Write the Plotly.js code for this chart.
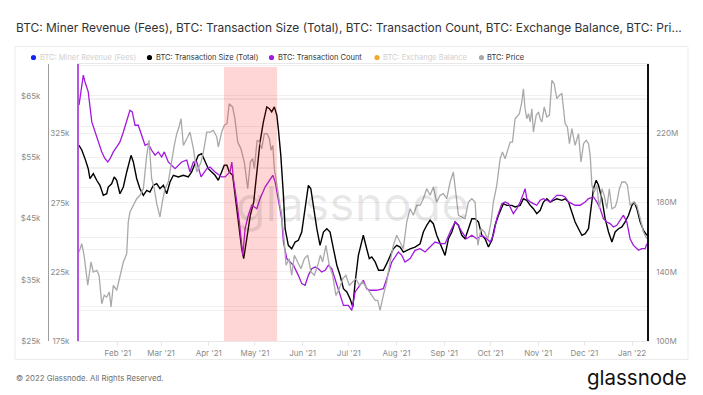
<!DOCTYPE html>
<html>
<head>
<meta charset="utf-8">
<script src="https://cdn.plot.ly/plotly-3.0.1.min.js"></script>
<style>
  html, body { margin: 0; padding: 0; background: #fff; }
  #chart { width: 703px; height: 395px; }
</style>
</head>
<body>
<div id="chart"></div>
<script>
// ---- Data (x values are days since 2021-01-01) ----
const seriesNames = ['BTC: Miner Revenue (Fees)', 'BTC: Transaction Size (Total)', 'BTC: Transaction Count', 'BTC: Exchange Balance', 'BTC: Price'];

// BTC: Transaction Count (thousands)
const txCountDay = [5.7,8.5,9.6,11.7,14.0,16.1,18.2,20.5,22.6,24.4,25.9,28.0,30.2,32.3,34.5,36.7,38.8,40.3,42.1,44.2,46.4,48.6,50.7,52.9,55.1,57.2,59.4,61.1,63.7,65.9,68.1,72.4,75.7,77.8,80.0,82.2,85.0,88.7,90.8,94.1,98.4,100.6,103.8,105.0,106.0,108.2,109.9,112.1,113.6,115.7,117.9,121.2,123.3,126.6,129.8,131.6,133.1,135.2,137.4,138.5,140.7,142.8,145.0,148.2,150.4,152.6,154.7,156.9,159.1,161.2,163.4,165.6,167.7,169.9,172.1,175.3,177.5,180.7,182.9,185.1,188.3,190.4,192.6,194.8,199.1,203.4,205.6,208.9,213.2,215.4,217.5,220.8,224.0,227.3,230.5,233.8,237.0,240.3,243.5,246.8,250.0,252.2,254.4,257.6,260.9,264.1,267.4,270.6,272.8,274.9,277.1,280.4,282.5,284.7,287.9,290.1,292.3,294.4,295.5,296.6,298.8,300.9,303.1,305.3,307.4,309.6,311.8,313.9,316.1,319.4,321.5,323.7,325.9,328.0,331.3,334.5,336.7,339.9,342.1,344.3,346.4,348.6,350.7,352.9,355.1,357.2,359.4,361.6,363.7,365.9,369.2,371.3,373.5,374.6];
const txCountK = [345.6,367.3,362.4,355.2,333.5,326.2,319.0,311.8,306.9,304.5,306.9,311.8,315.4,319.0,326.2,333.5,341.9,340.7,331.1,331.1,323.8,316.6,317.8,313.0,309.4,311.8,308.1,311.8,304.5,302.1,299.7,304.5,305.8,297.3,304.5,304.5,293.7,299.7,300.9,297.3,293.7,293.7,297.3,304.5,292.4,275.6,261.1,237.0,256.3,266.0,273.2,270.7,278.0,286.4,292.4,294.9,290.1,275.6,263.5,246.6,234.6,232.2,229.8,222.5,216.5,215.3,222.5,227.3,228.5,227.3,224.9,226.2,229.8,227.3,220.1,209.2,200.8,200.8,197.2,210.5,215.3,218.9,212.8,211.7,211.7,212.8,220.1,232.2,239.4,237.0,232.2,234.6,240.6,241.8,239.4,243.0,246.6,245.4,245.4,253.9,261.1,258.7,253.9,249.0,251.5,249.0,251.5,249.0,246.6,251.5,263.5,274.4,275.6,274.4,267.1,270.7,275.6,281.6,285.2,278.0,275.6,274.4,273.2,276.8,278.0,276.8,275.6,278.0,280.4,280.4,279.2,275.6,274.4,273.2,273.2,275.6,278.0,279.2,275.6,270.7,263.5,261.1,259.9,257.5,258.7,262.3,266.0,261.1,249.0,244.2,240.6,241.8,241.8,245.4];

// BTC: Transaction Size (Total) (millions)
const txSizeDay = [5.7,7.5,9.6,11.7,12.8,15.0,17.2,19.3,21.5,23.7,24.7,26.9,28.6,30.2,32.3,34.5,36.7,38.2,39.5,41.0,43.2,45.3,47.5,49.7,51.8,54.0,56.2,58.3,60.5,62.7,64.8,67.0,70.2,73.5,76.7,78.9,81.1,83.2,85.4,87.6,89.7,91.9,94.1,96.2,98.4,100.1,101.8,103.3,105.5,107.7,109.9,111.4,112.7,114.8,117.0,119.2,121.2,123.3,125.5,127.7,129.4,130.9,132.6,134.2,135.2,136.8,138.5,139.6,141.7,143.9,146.1,148.2,150.4,152.6,154.7,156.3,158.0,160.2,162.3,164.5,166.7,168.8,171.0,173.2,175.3,177.5,179.7,181.8,183.6,185.1,187.2,190.4,192.6,194.3,195.9,198.1,200.3,203.4,205.6,207.8,209.9,212.1,214.3,216.4,218.6,220.8,224.0,227.3,229.4,231.6,233.8,235.9,238.1,241.4,243.5,245.7,247.9,250.0,252.2,254.4,256.5,258.7,260.9,263.0,265.2,267.4,269.5,271.7,273.9,276.0,278.2,281.4,283.6,286.9,289.0,292.3,294.4,296.6,298.8,300.9,303.1,305.3,307.4,309.6,311.8,313.9,316.1,319.4,321.5,323.7,325.9,328.0,330.2,332.4,334.5,336.7,338.3,339.9,341.7,343.2,345.4,347.5,349.7,351.9,354.0,356.2,358.4,360.5,362.7,364.9,366.4,368.1,370.3,372.4,374.6];
const txSizeM = [213.1,210.4,205.4,199.6,193.8,196.7,192.9,190.0,184.2,185.1,189.0,190.9,194.8,192.9,185.1,189.0,197.7,203.5,207.3,203.5,193.8,188.0,184.2,187.1,186.1,190.0,190.9,188.0,190.0,185.1,191.9,195.8,194.8,195.8,194.8,197.7,202.5,207.3,208.3,203.5,199.6,197.7,195.8,192.9,197.7,201.6,201.6,197.7,195.8,180.3,163.0,153.3,147.6,161.1,172.7,180.3,195.8,215.0,226.6,235.3,234.3,232.4,235.3,230.5,222.7,207.3,184.2,164.9,155.3,153.3,157.2,158.2,163.0,176.5,190.0,188.0,176.5,164.9,155.3,163.0,164.9,163.0,153.3,143.8,138.0,130.2,128.3,124.4,119.7,134.1,149.5,161.1,153.3,147.6,148.6,145.7,140.9,140.9,144.7,149.5,153.3,155.3,154.3,151.4,152.4,153.3,154.3,156.2,163.0,166.9,169.8,167.8,161.1,153.3,149.5,159.1,163.0,168.8,166.9,161.1,159.1,164.9,170.7,170.7,168.8,161.1,159.1,154.3,158.2,166.9,172.7,179.4,178.4,178.4,177.5,178.4,182.2,181.3,178.4,176.5,173.6,175.5,180.3,182.2,180.3,181.3,182.2,181.3,182.2,180.3,174.6,168.8,164.9,161.1,162.0,164.9,176.5,188.0,192.9,190.0,182.2,170.7,163.0,157.2,163.0,164.9,165.9,168.8,172.7,178.4,180.3,176.5,168.8,164.0,161.1];

// BTC: Price (USD thousands)
const priceDay = [5.7,7.5,9.0,11.4,13.5,15.0,17.2,18.7,20.5,22.1,23.7,25.4,26.5,28.0,30.2,32.3,34.5,36.7,37.7,38.8,41.0,43.2,45.3,47.5,49.7,51.2,52.9,54.6,56.2,58.3,59.8,61.6,63.7,65.9,67.6,69.2,70.7,72.0,73.5,75.7,77.8,80.0,82.2,85.0,86.5,88.7,90.8,93.0,95.2,96.2,98.4,100.1,101.8,103.3,105.5,107.0,108.8,110.9,113.1,115.3,117.0,118.5,119.6,121.4,122.9,124.4,126.1,127.9,129.4,130.5,131.6,132.6,134.8,137.0,138.7,140.2,142.3,143.9,145.6,147.8,149.9,152.1,154.3,156.4,158.6,160.8,162.5,164.0,166.1,168.3,170.5,172.6,174.8,177.0,179.1,181.3,183.5,185.6,187.8,190.0,192.1,194.3,195.9,198.1,199.8,201.3,203.4,205.6,207.8,209.9,212.1,214.3,216.4,218.6,220.8,222.9,225.1,227.3,229.4,231.6,233.8,235.9,238.1,240.3,242.4,244.6,246.8,248.9,250.0,252.2,254.4,256.5,258.7,260.9,263.0,264.8,266.9,269.1,271.3,273.4,274.9,277.1,279.3,280.8,282.5,284.3,285.8,287.3,289.0,291.8,293.4,294.4,295.5,296.6,297.7,298.8,299.9,300.9,302.7,304.2,305.3,306.4,307.9,309.6,311.3,312.9,314.4,316.1,317.8,319.4,321.5,323.0,324.3,325.9,328.0,330.2,331.8,333.5,335.2,336.7,337.8,338.9,340.4,342.1,343.8,345.4,346.9,348.6,350.2,351.9,354.0,355.1,356.8,358.4,360.5,362.0,363.7,365.9,368.1,370.3,372.4,374.6];
const priceK = [39.52,40.87,38.98,34.09,37.89,36.26,36.53,35.72,31.08,32.45,32.18,33.00,30.55,34.09,33.27,35.72,37.89,39.24,44.41,46.04,47.14,48.21,48.77,49.84,55.29,57.74,51.48,49.84,47.40,45.23,47.67,49.84,50.94,54.74,56.92,58.82,59.91,61.26,56.92,58.00,59.09,56.37,52.57,54.20,55.83,59.09,59.09,59.37,58.28,56.65,59.09,60.19,60.45,63.71,63.17,61.26,57.46,56.37,54.20,49.84,54.20,54.74,53.11,57.74,57.46,56.37,58.82,58.82,58.00,56.11,56.92,53.11,49.31,46.04,42.24,37.35,38.43,35.72,38.98,37.89,36.79,38.43,38.98,36.26,35.72,37.35,38.98,37.89,40.61,37.35,35.72,32.45,33.53,35.16,35.72,34.09,34.62,35.16,34.09,34.62,33.86,33.00,32.45,31.64,31.64,30.01,32.45,34.62,37.89,40.61,42.24,41.15,40.06,44.41,46.58,45.51,47.14,47.14,48.21,49.84,48.77,50.12,47.67,48.77,49.03,48.21,50.94,52.57,49.84,45.51,45.23,44.95,47.67,48.21,47.67,40.61,43.32,42.78,41.69,44.41,47.67,50.40,54.74,55.83,54.74,56.37,57.46,57.46,61.26,62.08,63.99,66.16,62.89,61.26,62.08,60.73,62.89,59.09,61.82,62.36,61.26,60.73,63.17,61.54,61.82,67.53,66.97,64.53,65.08,65.34,60.45,59.91,57.19,59.63,56.92,58.82,54.20,57.19,57.74,57.19,55.29,50.40,49.31,50.40,46.58,49.84,48.77,46.58,49.84,46.58,46.86,47.67,49.84,50.94,50.94,50.40,47.14,47.67,47.14,44.95,42.78,41.69];

// Tick values
const txSizeTicks = [100, 140, 180, 220];
const txCountTicks = [175, 225, 275, 325];
const priceTicks = [25, 35, 45, 55, 65];

// Highlighted period (days since 2021-01-01)
const highlightStartDay = 99.9;
const highlightEndDay = 134.4;
// Visible x-range (days since 2021-01-01)
const xStartDay = 5.7;
const xEndDay = 374.7;

// ---- Helpers ----
function dayToDate(d) {
  const t = new Date(Date.UTC(2021, 0, 1) + d * 86400000);
  return t.toISOString().slice(0, 19).replace('T', ' ');
}
const W = 703, H = 395;
const M = {l: 20, r: 20, t: 64, b: 54};
const PW = W - M.l - M.r, PH = H - M.t - M.b;
const fx = px => (px - M.l) / PW;
const fy = py => (H - M.b - py) / PH;

const C_PURPLE = 'rgb(163,24,222)';
const C_BLACK = '#000000';
const C_GRAY = '#a9a9a9';
const C_BLUE = '#1426f5';
const C_ORANGE = '#f4a62a';
const FONT = 'Inter, "Noto Sans", sans-serif';
const GRID = '#f0f0f0';
const TICKFONT = {family: FONT, size: 8, color: '#8a8a8a'};

const traces = [
  {x: txSizeDay.map(dayToDate), y: txSizeM, type: 'scatter', mode: 'lines', yaxis: 'y',
   line: {color: C_BLACK, width: 1.4}, name: seriesNames[1], showlegend: false, hoverinfo: 'skip'},
  {x: txCountDay.map(dayToDate), y: txCountK, type: 'scatter', mode: 'lines', yaxis: 'y2',
   line: {color: C_PURPLE, width: 1.3}, name: seriesNames[2], showlegend: false, hoverinfo: 'skip'},
  {x: priceDay.map(dayToDate), y: priceK, type: 'scatter', mode: 'lines', yaxis: 'y3',
   line: {color: C_GRAY, width: 1.3}, name: seriesNames[4], showlegend: false, hoverinfo: 'skip'}
];

// Legend (custom row)
const legendItems = [
  {name: seriesNames[0], color: C_BLUE, dotX: 33.5, active: false},
  {name: seriesNames[1], color: C_BLACK, dotX: 149.5, active: true},
  {name: seriesNames[2], color: C_PURPLE, dotX: 271.5, active: true},
  {name: seriesNames[3], color: C_ORANGE, dotX: 377, active: false},
  {name: seriesNames[4], color: '#a9a9a9', dotX: 481.5, active: true}
];
const legendY = 57.5;

const shapes = [
  // card border
  {type: 'rect', xref: 'paper', yref: 'paper', x0: fx(15), x1: fx(688), y0: fy(359.5), y1: fy(46.5),
   line: {color: '#ebebeb', width: 1}, fillcolor: 'rgba(0,0,0,0)', layer: 'below'},
  // highlighted period
  {type: 'rect', xref: 'x', yref: 'paper', x0: dayToDate(highlightStartDay), x1: dayToDate(highlightEndDay),
   y0: 0, y1: fy(67), fillcolor: 'rgba(250,30,30,0.18)', line: {width: 0}, layer: 'above'}
];
legendItems.forEach(it => {
  shapes.push({type: 'circle', xref: 'paper', yref: 'paper',
    x0: fx(it.dotX - 2.6), x1: fx(it.dotX + 2.6), y0: fy(legendY + 2.6), y1: fy(legendY - 2.6),
    fillcolor: it.color, line: {width: 0}});
});

const annotations = [
  {text: 'BTC: Miner Revenue (Fees), BTC: Transaction Size (Total), BTC: Transaction Count, BTC: Exchange Balance, BTC: Pri...',
   xref: 'paper', yref: 'paper', x: fx(13.5), y: fy(27), xanchor: 'left', yanchor: 'middle', showarrow: false,
   font: {family: FONT, size: 11.95, color: '#333333'}},
  {text: '© 2022 Glassnode. All Rights Reserved.', xref: 'paper', yref: 'paper', x: fx(13.5), y: fy(378),
   xanchor: 'left', yanchor: 'middle', showarrow: false, font: {family: FONT, size: 7.8, color: '#707070'}},
  {text: 'glassnode', xref: 'paper', yref: 'paper', x: fx(689), y: fy(377), xanchor: 'right', yanchor: 'middle',
   showarrow: false, font: {family: FONT, size: 20.5, color: '#111111'}},
  {text: 'glassnode', xref: 'paper', yref: 'paper', x: fx(352), y: fy(203), xanchor: 'center', yanchor: 'middle',
   showarrow: false, font: {family: FONT, size: 48, color: 'rgba(0,0,0,0.09)'}}
];
legendItems.forEach(it => {
  annotations.push({text: it.name, xref: 'paper', yref: 'paper', x: fx(it.dotX + 4), y: fy(legendY),
    xanchor: 'left', yanchor: 'middle', showarrow: false,
    font: {family: FONT, size: 7.5, color: it.active ? '#333333' : '#cfcfcf'}});
});

const layout = {
  width: W, height: H,
  margin: M,
  paper_bgcolor: '#ffffff', plot_bgcolor: 'rgba(0,0,0,0)',
  showlegend: false,
  font: {family: FONT},
  xaxis: {
    type: 'date', domain: [fx(79), fx(647)], range: [dayToDate(xStartDay), dayToDate(xEndDay)],
    tick0: '2021-02-01', dtick: 'M1', tickformat: "%b '%y", tickfont: TICKFONT,
    showgrid: false, zeroline: false, showline: true, linecolor: '#e8e8e8', linewidth: 1, mirror: true,
    ticks: 'outside', ticklen: 4, tickcolor: '#e8e8e8'
  },
  // Transaction Size (right)
  yaxis: {
    range: [100, 260.1], tickmode: 'array', tickvals: txSizeTicks, ticktext: txSizeTicks.map(v => v + 'M'),
    side: 'right', anchor: 'x',
    tickfont: TICKFONT, showgrid: true, gridcolor: GRID, zeroline: false,
    minor: {tickmode: 'linear', tick0: 100, dtick: 20, showgrid: true, gridcolor: GRID, ticks: ''},
    showline: true, linecolor: '#111111', linewidth: 1.6, ticks: '', ticklabelstandoff: 6, ticklabelshift: 3.5
  },
  // Transaction Count (inner left)
  yaxis2: {
    range: [175, 375.4], tickmode: 'array', tickvals: txCountTicks, ticktext: txCountTicks.map(v => v + 'k'),
    side: 'left', anchor: 'x', overlaying: 'y',
    tickfont: TICKFONT, showgrid: true, gridcolor: GRID, zeroline: false,
    minor: {tickmode: 'linear', tick0: 175, dtick: 25, showgrid: true, gridcolor: GRID, ticks: ''},
    showline: true, linecolor: 'rgb(184,84,228)', linewidth: 2, ticks: '', ticklabelstandoff: 6, ticklabelshift: 3.5
  },
  // Price (outer left)
  yaxis3: {
    range: [25, 70.19], tickmode: 'array', tickvals: priceTicks, ticktext: priceTicks.map(v => '$' + v + 'k'),
    side: 'left', anchor: 'free', position: fx(48), overlaying: 'y',
    tickfont: TICKFONT, showgrid: true, gridcolor: GRID, zeroline: false,
    minor: {tickmode: 'linear', tick0: 25, dtick: 5, showgrid: true, gridcolor: GRID, ticks: ''},
    showline: true, linecolor: '#9c9c9c', linewidth: 1, ticks: '', ticklabelstandoff: 6, ticklabelshift: 3.5
  },
  shapes: shapes,
  annotations: annotations
};

Plotly.newPlot('chart', traces, layout, {displayModeBar: false, staticPlot: true});
</script>
</body>
</html>
